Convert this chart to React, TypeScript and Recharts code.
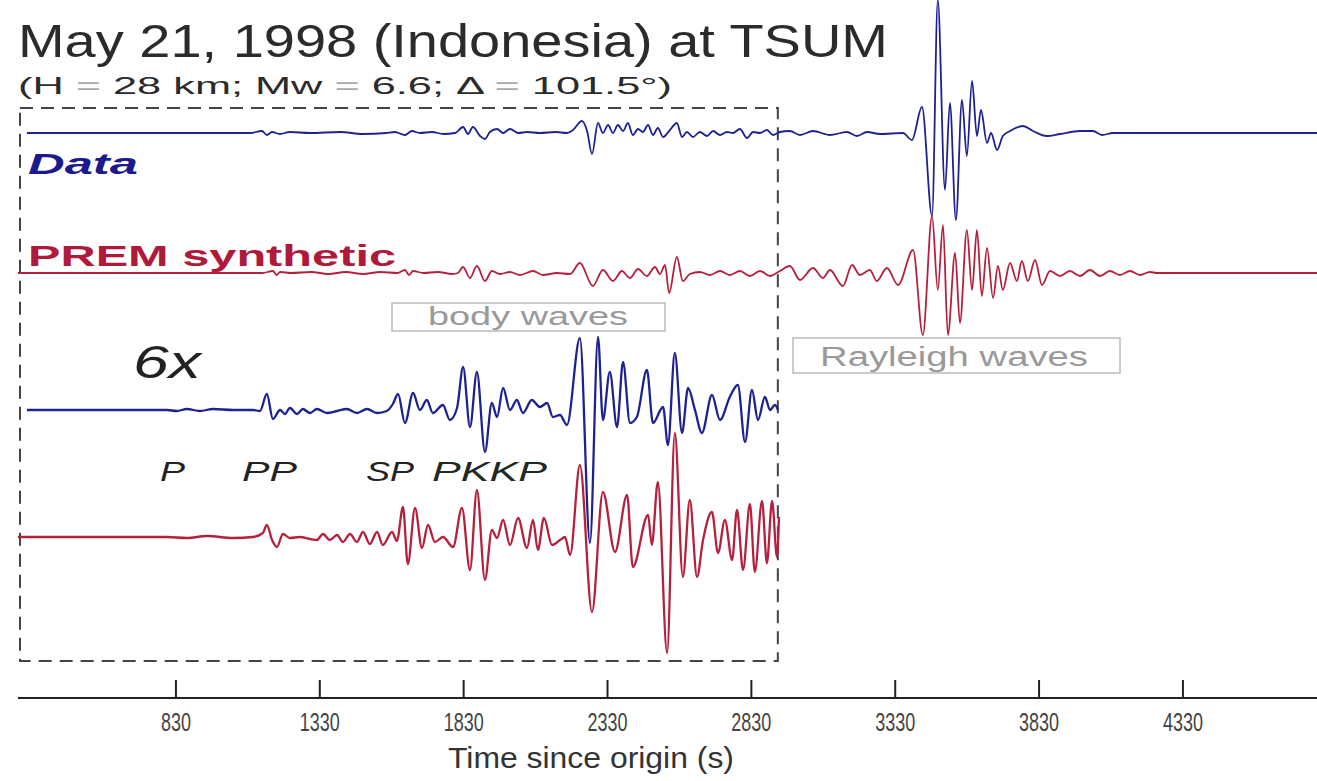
import { LineChart, Line, XAxis, YAxis, ReferenceArea } from 'recharts'

// time (s since origin), amplitude (arbitrary units, up = positive)
const dataTrace: [number, number][] = [
  [312, 0], [1087, 0], [1129, 2], [1146, -2], [1164, 1], [1191, -1], [1226, 1], [1296, 0], [1400, 1], [1480, -1],
  [1560, 0], [1591, 1], [1626, -2], [1650, 2], [1678, 0], [1720, 1], [1760, -1], [1800, 0], [1828, 6], [1845, -1],
  [1862, 6], [1887, -3], [1904, -6], [1921, 1], [1946, 4], [1967, 0], [1991, 4], [2020, 0], [2050, 1], [2095, 0],
  [2150, 1], [2189, 0], [2210, 3], [2241, 12], [2259, 2], [2276, -21], [2297, 10], [2314, 0], [2332, 8], [2349, 0],
  [2366, 8], [2384, 2], [2401, 10], [2418, -2], [2436, 4], [2453, 1], [2471, 8], [2488, -2], [2505, 5], [2523, -4],
  [2547, 3], [2571, 10], [2589, -4], [2606, 1], [2627, -4], [2651, 1], [2676, -3], [2697, 2], [2721, -2], [2745, 1],
  [2766, 0], [2790, 4], [2815, -5], [2836, 1], [2860, 0], [2884, 3], [2905, -2], [2929, 1], [2964, 2], [2999, -2],
  [3044, 2], [3103, -2], [3162, 1], [3197, -3], [3232, 1], [3277, -1], [3357, 0], [3388, -7], [3423, 26], [3458, -83],
  [3478, 133], [3503, -57], [3520, 30], [3541, -87], [3562, 33], [3579, -23], [3597, 52], [3614, -3], [3628, 23],
  [3649, -10], [3663, 0], [3684, -17], [3704, -3], [3729, 2], [3774, 7], [3809, 2], [3857, -3], [3903, -1], [3972, 2],
  [4017, 2], [4049, -2], [4087, 0], [4796, 0],
]

const premTrace: [number, number][] = [
  [281, 0], [1130, 0], [1167, 2], [1180, -2], [1192, 1], [1230, 0], [1300, 1], [1360, -1], [1420, 1], [1480, -1],
  [1540, 1], [1600, 0], [1626, 3], [1640, -2], [1654, 2], [1690, 0], [1740, 1], [1790, -1], [1810, 0], [1828, 6],
  [1852, -5], [1876, 7], [1904, -8], [1928, 2], [1956, -1], [1991, 1], [2026, -2], [2071, 2], [2106, -2], [2154, 0],
  [2200, -1], [2234, 10], [2279, -13], [2314, 3], [2349, -8], [2380, 2], [2408, -5], [2436, 4], [2467, -3], [2495, 6],
  [2512, -1], [2530, 8], [2544, -20], [2571, 16], [2592, -8], [2616, -1], [2651, 1], [2686, -2], [2721, 2], [2755, -2],
  [2790, 2], [2825, -3], [2860, 2], [2895, -3], [2929, 2], [2964, 7], [2999, -7], [3044, 5], [3079, -5], [3103, 3],
  [3148, -13], [3180, 8], [3207, -2], [3242, 3], [3266, -8], [3301, 5], [3340, -12], [3392, 23], [3426, -62],
  [3458, 57], [3478, -17], [3496, 48], [3513, -62], [3538, 20], [3555, -50], [3579, 43], [3597, -17], [3614, 43],
  [3631, -23], [3649, 25], [3670, -25], [3687, 7], [3704, -17], [3729, 10], [3753, -8], [3770, 12], [3791, -8],
  [3816, 13], [3840, -12], [3868, 2], [3903, -3], [3937, 2], [3972, -3], [4007, 3], [4042, -3], [4076, 2], [4111, -2],
  [4146, 2], [4181, -2], [4215, 1], [4240, 0], [4796, 0],
]

// body-wave window, magnified 6x
const data6x: [number, number][] = [
  [312, 0], [799, 0], [833, -1], [868, 1], [913, -1], [959, 1], [1028, 0], [1098, 0], [1122, -1], [1146, 16],
  [1167, -9], [1192, 0], [1209, -4], [1226, 2], [1251, -4], [1271, 1], [1296, -3], [1320, 1], [1355, -3], [1390, -1],
  [1424, 1], [1459, -3], [1494, 1], [1529, -3], [1563, -1], [1584, 6], [1602, 16], [1626, -13], [1654, 17], [1678, 0],
  [1702, 10], [1723, -3], [1758, 5], [1782, -10], [1807, 2], [1828, 43], [1852, -17], [1876, 38], [1904, -42],
  [1928, 7], [1946, -7], [1967, 22], [1991, 0], [2015, 10], [2036, -3], [2067, 10], [2095, 3], [2120, 7], [2140, -7],
  [2165, -5], [2189, -15], [2234, 72], [2269, -133], [2297, 73], [2314, -10], [2338, 38], [2363, -17], [2384, 48],
  [2408, -13], [2432, -7], [2467, 40], [2488, -13], [2523, 3], [2540, -35], [2564, 57], [2589, -23], [2610, 22],
  [2634, 0], [2658, -23], [2693, 15], [2721, -10], [2755, 13], [2783, 25], [2808, -32], [2832, 20], [2853, -10],
  [2877, 13], [2895, 0], [2912, 5], [2923, 0],
]

const prem6x: [number, number][] = [
  [281, 0], [799, 0], [868, -1], [938, 1], [1028, -1], [1098, 0], [1132, 4], [1146, 12], [1164, -3], [1181, -10],
  [1202, 3], [1226, -1], [1261, 0], [1296, -2], [1320, -3], [1341, 3], [1365, -3], [1390, 2], [1410, -5], [1435, 3],
  [1459, -5], [1480, 5], [1504, -7], [1529, 5], [1549, -8], [1581, 5], [1598, -4], [1619, 30], [1636, -27], [1661, 29],
  [1685, -11], [1706, 12], [1730, -5], [1758, 0], [1793, -10], [1824, 29], [1852, -33], [1876, 47], [1904, -43],
  [1928, 7], [1946, -1], [1967, 17], [1991, -8], [2019, 19], [2050, -11], [2071, 17], [2088, -13], [2109, 19],
  [2137, -8], [2165, -3], [2182, 0], [2200, -18], [2234, 72], [2276, -75], [2314, 45], [2356, -15], [2398, 42],
  [2418, -30], [2471, 22], [2484, -8], [2505, 55], [2537, -116], [2564, 104], [2592, -40], [2616, 37], [2641, -40],
  [2662, -3], [2693, 25], [2714, -16], [2738, 17], [2763, -23], [2780, 27], [2801, -33], [2825, 33], [2842, -35],
  [2867, 36], [2884, -26], [2902, 36], [2919, -20], [2926, 20],
]

const tickValues = [830, 1330, 1830, 2330, 2830, 3330, 3830, 4330]
const timeDomain: [number, number] = [281, 4796]
const boxWindow = { from: 288, to: 2922 }

// vertical placement of each trace's zero line
const BASE_DATA = 565
const BASE_PREM = 425
const BASE_DATA6 = 288
const BASE_PREM6 = 161

const BLUE = '#1e2290'
const RED = '#b5203d'

const toSeries = (pts: [number, number][], base: number) => pts.map(([t, a]) => ({ t, v: base + a }))

function AxisTick({ x, y, payload }: any) {
  const label = String(payload.value)
  return (
    <g>
      <line x1={x} x2={x} y1={y} y2={y - 18} stroke="#222" strokeWidth={2} />
      <text
        x={x}
        y={y + 33}
        textAnchor="middle"
        fontSize={25}
        fill="#444"
        fontFamily="'Liberation Sans Narrow', 'Liberation Sans', Arial, sans-serif"
        textLength={label.length * 10}
        lengthAdjust="spacingAndGlyphs"
      >
        {label}
      </text>
    </g>
  )
}

const sans = "'Liberation Sans', Arial, Helvetica, sans-serif"

export default function App() {
  return (
    <div style={{ position: 'absolute', left: 0, top: 0, width: 1317, height: 781, background: '#fff' }}>
      <LineChart width={1317} height={781} margin={{ top: 0, right: 0, bottom: 0, left: 18 }}>
        <XAxis
          type="number"
          dataKey="t"
          domain={timeDomain}
          ticks={tickValues}
          allowDataOverflow
          height={83}
          axisLine={{ stroke: '#222', strokeWidth: 2 }}
          tickLine={false}
          tickSize={0}
          tickMargin={0}
          tick={<AxisTick />}
        />
        <YAxis type="number" domain={[0, 698]} hide allowDataOverflow />
        <ReferenceArea
          x1={boxWindow.from}
          x2={boxWindow.to}
          y1={37}
          y2={590}
          fill="none"
          stroke="#444"
          strokeWidth={2}
          strokeDasharray="13 8"
        />
        <Line data={toSeries(dataTrace, BASE_DATA)} dataKey="v" type="monotone" stroke={BLUE} strokeWidth={1.8} dot={false} isAnimationActive={false} />
        <Line data={toSeries(premTrace, BASE_PREM)} dataKey="v" type="monotone" stroke={RED} strokeWidth={1.8} dot={false} isAnimationActive={false} />
        <Line data={toSeries(data6x, BASE_DATA6)} dataKey="v" type="monotone" stroke={BLUE} strokeWidth={2.3} dot={false} isAnimationActive={false} />
        <Line data={toSeries(prem6x, BASE_PREM6)} dataKey="v" type="monotone" stroke={RED} strokeWidth={2.3} dot={false} isAnimationActive={false} />
      </LineChart>

      <svg width={1317} height={781} style={{ position: 'absolute', left: 0, top: 0, pointerEvents: 'none' }}>
        <text x={18} y={57} fontSize={46} fill="#2b2b2b" fontFamily={sans} textLength={870} lengthAdjust="spacingAndGlyphs">
          May 21, 1998 (Indonesia) at TSUM
        </text>
        <text x={18} y={94} fontSize={24} fill="#2b2b2b" fontFamily={sans} textLength={654} lengthAdjust="spacingAndGlyphs">
          (H <tspan fill="#aaa">=</tspan> 28 km; Mw <tspan fill="#aaa">=</tspan> 6.6; Δ <tspan fill="#aaa">=</tspan> 101.5°)
        </text>
        <text x={28} y={174} fontSize={29} fontWeight="bold" fontStyle="italic" fill="#1a1a8c" fontFamily={sans} textLength={110} lengthAdjust="spacingAndGlyphs">
          Data
        </text>
        <text x={28} y={266} fontSize={30} fontWeight="bold" fill="#b01a3a" fontFamily={sans} textLength={368} lengthAdjust="spacingAndGlyphs">
          PREM synthetic
        </text>

        <rect x={392} y={303} width={273} height={28} fill="none" stroke="#bbb" strokeWidth={1.5} />
        <text x={428} y={325} fontSize={25} fill="#999" fontFamily={sans} textLength={200} lengthAdjust="spacingAndGlyphs">
          body waves
        </text>
        <rect x={793} y={338} width={327} height={35} fill="none" stroke="#bbb" strokeWidth={1.5} />
        <text x={820} y={366} fontSize={27} fill="#999" fontFamily={sans} textLength={268} lengthAdjust="spacingAndGlyphs">
          Rayleigh waves
        </text>

        <text x={133} y={378} fontSize={46} fontStyle="italic" fill="#222" fontFamily={sans} textLength={68} lengthAdjust="spacingAndGlyphs">
          6x
        </text>
        <text x={160} y={481} fontSize={27} fontStyle="italic" fill="#222" fontFamily={sans} textLength={25} lengthAdjust="spacingAndGlyphs">P</text>
        <text x={242} y={481} fontSize={27} fontStyle="italic" fill="#222" fontFamily={sans} textLength={55} lengthAdjust="spacingAndGlyphs">PP</text>
        <text x={366} y={481} fontSize={27} fontStyle="italic" fill="#222" fontFamily={sans} textLength={48} lengthAdjust="spacingAndGlyphs">SP</text>
        <text x={432} y={481} fontSize={27} fontStyle="italic" fill="#1f2a22" fontFamily={sans} textLength={115} lengthAdjust="spacingAndGlyphs">PKKP</text>

        <text x={448} y={768} fontSize={30} fill="#333" fontFamily="'Liberation Sans Narrow', 'Liberation Sans', Arial, sans-serif" textLength={286} lengthAdjust="spacingAndGlyphs">
          Time since origin (s)
        </text>
      </svg>
    </div>
  )
}
